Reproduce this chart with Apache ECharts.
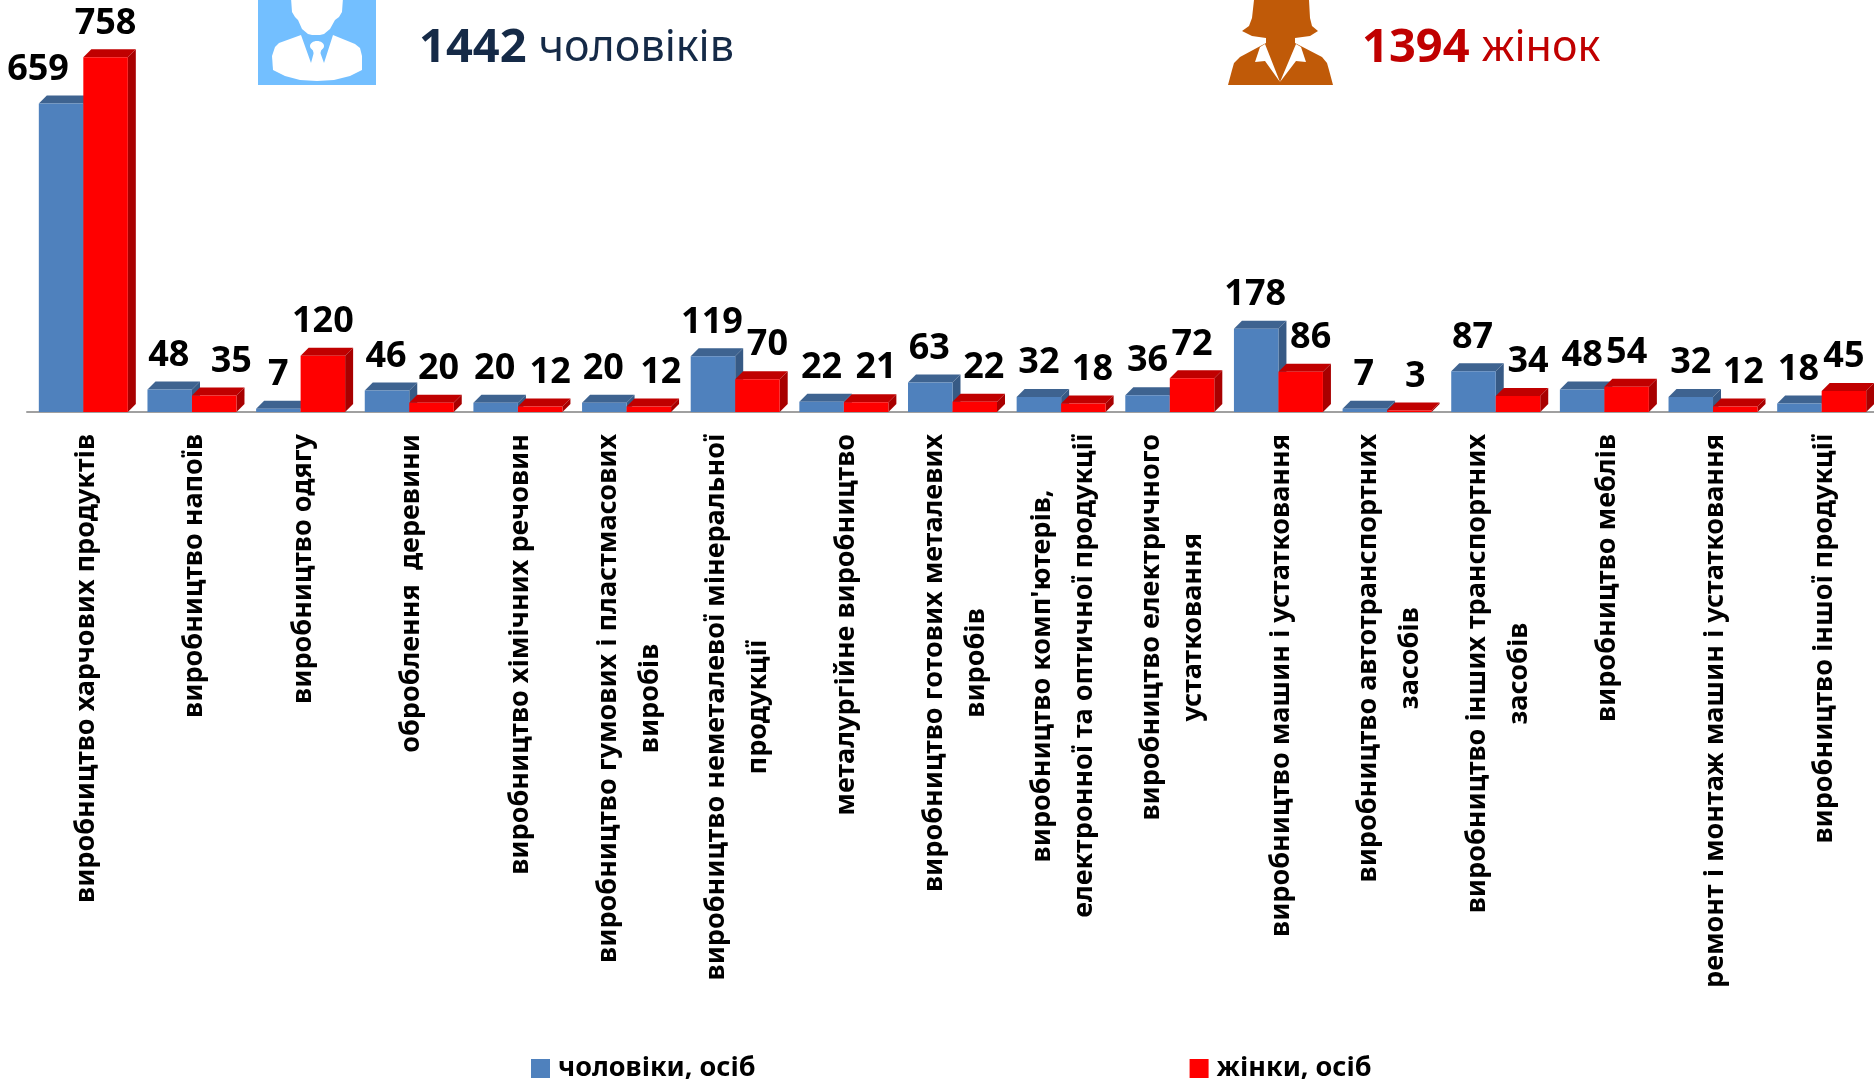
<!DOCTYPE html>
<html>
<head>
<meta charset="utf-8">
<title>chart</title>
<script src="https://cdn.jsdelivr.net/npm/echarts@6/dist/echarts.min.js"></script>
<style>
  html, body {margin: 0; padding: 0; background: #fff;}
  #main {width: 1874px; height: 1082px;}
</style>
</head>
<body>
<div id="main"></div>
<script>
const categories = [
  'виробництво харчових продуктів',
  'виробництво напоїв',
  'виробництво одягу',
  'оброблення  деревини',
  'виробництво хімічних речовин',
  'виробництво гумових і пластмасових\nвиробів',
  'виробництво неметалевої мінеральної\nпродукції',
  'металургійне виробництво',
  'виробництво готових металевих\nвиробів',
  "виробництво комп'ютерів,\nелектронної та оптичної продукції",
  'виробництво електричного\nустатковання',
  'виробництво машин і устатковання',
  'виробництво автотранспортних\nзасобів',
  'виробництво інших транспортних\nзасобів',
  'виробництво меблів',
  'ремонт і монтаж машин і устатковання',
  'виробництво іншої продукції',
]
const men = [659, 48, 7, 46, 20, 20, 119, 22, 63, 32, 36, 178, 7, 87, 48, 32, 18]
const women = [758, 35, 120, 20, 12, 12, 70, 21, 22, 18, 72, 86, 3, 34, 54, 12, 45]

// зсув підписів відносно стовпчика
const menLabelShift = [-23, -1, 0, -1, -1, -1, -1, 0, -1, 0, 0, -1, -1, -1, 0, 0, -1]
const womenLabelShift = [0, 17, 0, 7, 10, 12, 10, 10, 9, 9, 0, 10, 6, 10, 0, 8, 0]

const FONT = '"Noto Sans", "Open Sans", sans-serif'
const BAR_W = 44.5
const DEPTH = 8

const cuboid = function (colors, barOffset, shifts) {
  return function (params, api) {
    const i = api.value(0),
        top = api.coord([i, api.value(1)]),
        base = api.coord([i, 0]),
        x = top[0] + barOffset,
        x2 = x + BAR_W,
        y = top[1],
        y0 = base[1]
    return {
      type: 'group',
      children: [
        {
          type: 'polygon',
          shape: {points: [[x, y], [x + DEPTH, y - DEPTH], [x2 + DEPTH, y - DEPTH], [x2, y]]},
          style: {fill: colors.top},
        },
        {
          type: 'polygon',
          shape: {points: [[x2, y], [x2 + DEPTH, y - DEPTH], [x2 + DEPTH, y0 - DEPTH], [x2, y0]]},
          style: {fill: colors.side},
        },
        {
          type: 'rect',
          shape: {x: x, y: y, width: BAR_W, height: y0 - y},
          style: {fill: colors.front},
        },
        {
          type: 'text',
          x: x + BAR_W / 2 + shifts[i],
          y: y - 34,
          style: {
            text: String(api.value(1)),
            align: 'center',
            verticalAlign: 'middle',
            font: 'bold 36px ' + FONT,
            fill: '#000',
          },
        },
      ],
    }
  }
}

const chart = echarts.init(document.getElementById('main'))

chart.setOption({
  animation: false,
  backgroundColor: '#fff',
  grid: {left: 27, right: 0, top: 37.6, bottom: 670},
  legend: {
    left: 526,
    top: 1050,
    itemWidth: 19,
    itemHeight: 19,
    itemGap: 434,
    textStyle: {
      fontFamily: FONT,
      fontWeight: 'bold',
      fontSize: 27,
      color: '#000',
      padding: [0, 0, 0, 3],
    },
    data: [
      {name: 'чоловіки, осіб', icon: 'rect'},
      {name: 'жінки, осіб', icon: 'rect'},
    ],
  },
  xAxis: {
    type: 'category',
    data: categories,
    axisTick: {show: false},
    axisLine: {lineStyle: {color: '#A0A0A0', width: 2}},
    axisLabel: {
      interval: 0,
      rotate: 90,
      margin: 22,
      padding: [9, 0, 0, 0],
      formatter: function (val) {
        return val.split('\n').map(s => '{c|' + s + '}').join('\n')
      },
      rich: {
        c: {
          align: 'center',
          fontFamily: FONT,
          fontWeight: 'bold',
          fontSize: 27,
          lineHeight: 42,
          color: '#000',
        },
      },
    },
  },
  yAxis: {type: 'value', min: 0, max: 800, show: false},
  series: [
    {
      name: 'чоловіки, осіб',
      type: 'custom',
      clip: false,
      itemStyle: {color: '#4F81BD'},
      renderItem: cuboid({front: '#4F81BD', top: '#3E6390', side: '#375A85'}, -42.5, menLabelShift),
      encode: {x: 0, y: 1},
      data: men.map((v, i) => [i, v]),
    },
    {
      name: 'жінки, осіб',
      type: 'custom',
      clip: false,
      itemStyle: {color: '#FF0000'},
      renderItem: cuboid({front: '#FF0000', top: '#C00000', side: '#A80000'}, 2, womenLabelShift),
      encode: {x: 0, y: 1},
      data: women.map((v, i) => [i, v]),
    },
  ],
  graphic: [
    // чоловік
    {type: 'rect', shape: {x: 258, y: 0, width: 118, height: 85}, style: {fill: '#73BFFF'}},
    {
      type: 'polygon',
      shape: {points: [[291, -2], [292, 12], [295, 17], [298, 20], [302, 29], [308, 34], [316, 36], [324, 34], [330, 29], [335, 20], [339, 17], [342, 12], [343, -2]]},
      style: {fill: '#fff'},
    },
    {
      type: 'polygon',
      shape: {points: [[301, 35], [279, 43], [275, 47], [272, 56], [273, 70], [285, 76], [300, 80], [317, 81], [334, 80], [350, 76], [362, 70], [362, 56], [360, 48], [355, 44], [333, 35]]},
      style: {fill: '#fff'},
    },
    {
      type: 'polygon',
      shape: {points: [[301, 35], [333, 35], [324, 63], [320, 52], [314, 52], [311, 63]]},
      style: {fill: '#73BFFF'},
    },
    {type: 'ellipse', shape: {cx: 317, cy: 46, rx: 7, ry: 5}, style: {fill: '#fff'}},
    {type: 'polygon', shape: {points: [[312, 48], [322, 48], [320, 54], [314, 54]]}, style: {fill: '#fff'}},
    // жінка
    {
      type: 'polygon',
      shape: {points: [[1254, 0], [1252, 18], [1249, 26], [1242, 31], [1252, 36], [1266, 38], [1266, 43], [1240, 57], [1234, 63], [1232, 70], [1228, 85], [1333, 85], [1329, 70], [1327, 63], [1322, 57], [1295, 43], [1295, 38], [1310, 36], [1318, 31], [1312, 26], [1310, 18], [1309, 0]]},
      style: {fill: '#C05A08'},
    },
    {type: 'polygon', shape: {points: [[1260, 47], [1255, 62], [1265, 61], [1280, 82], [1265, 44]]}, style: {fill: '#fff'}},
    {type: 'polygon', shape: {points: [[1301, 47], [1306, 62], [1296, 61], [1280, 82], [1296, 44]]}, style: {fill: '#fff'}},
    // підсумки
    {
      type: 'text',
      left: 419,
      top: 25,
      style: {
        rich: {
          n: {font: 'bold 47px ' + FONT, fill: '#152A47'},
          t: {font: '43px ' + FONT, fill: '#152A47'},
        },
        text: '{n|1442 }{t|чоловіків}',
      },
    },
    {
      type: 'text',
      left: 1362,
      top: 25,
      style: {
        rich: {
          n: {font: 'bold 47px ' + FONT, fill: '#C00000'},
          t: {font: '43px ' + FONT, fill: '#C00000'},
        },
        text: '{n|1394 }{t|жінок}',
      },
    },
  ],
})
</script>
</body>
</html>
